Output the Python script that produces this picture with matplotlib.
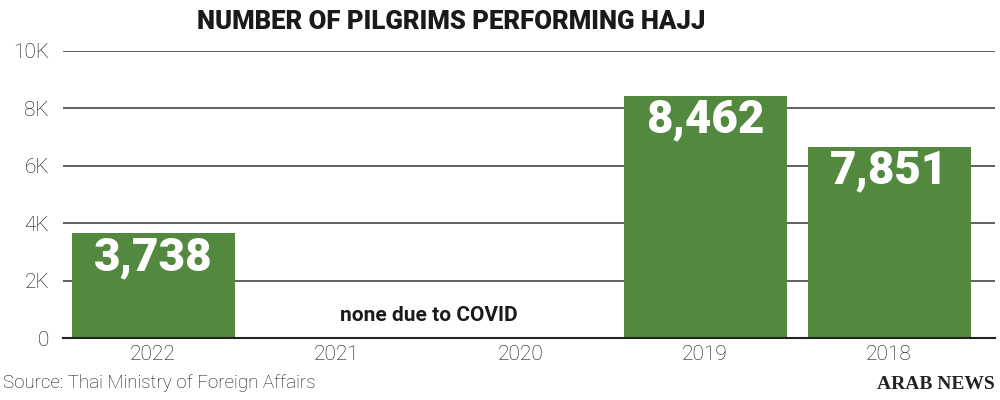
import matplotlib.pyplot as plt
from matplotlib.ticker import FuncFormatter

# Data
years = ["2022", "2021", "2020", "2019", "2018"]
bar_heights = [3650, 0, 0, 8440, 6670]
bar_labels = ["3,738", "", "", "8,462", "7,851"]
note_text = "none due to COVID"

green = "#52893f"

fig = plt.figure(figsize=(10, 4), dpi=100)
ax = fig.add_axes([0.063, 0.154, 0.932, 0.7185])

x = list(range(len(years)))
ax.bar(x, bar_heights, width=0.886, color=green, zorder=3)

# Big white value labels inside the bars
for xi, h, lab in zip(x, bar_heights, bar_labels):
    if lab:
        ax.annotate(lab, (xi, h), xytext=(0, -17), textcoords="offset points",
                    ha="center", va="center", color="white", fontsize=33,
                    fontweight="black", family="Roboto", zorder=4)

# Note for the empty COVID years
ax.text(1.5, 800, note_text, ha="center", va="center", fontsize=15,
        fontweight="bold", family="Roboto", color="#1a1a1a")

# Customizing axis
ax.set_xlim(-0.49, 4.576)
ax.set_ylim(0, 10000)
ax.set_yticks([0, 2000, 4000, 6000, 8000, 10000])
ax.yaxis.set_major_formatter(FuncFormatter(lambda v, p: "0" if v == 0 else "%dK" % (v / 1000)))
ax.set_xticks(x)
ax.set_xticklabels(years)
ax.tick_params(axis="both", length=0, labelsize=15, colors="#222222")
ax.tick_params(axis="y", pad=10)
ax.tick_params(axis="x", pad=5)
for lab in ax.get_xticklabels() + ax.get_yticklabels():
    lab.set_family("Roboto")
    lab.set_fontweight("light")
    lab.set_color("#111111")

ax.grid(axis="y", color="#444444", linewidth=1.2, zorder=0)
for side in ["top", "right", "left"]:
    ax.spines[side].set_visible(False)
ax.spines["bottom"].set_color("#222222")
ax.spines["bottom"].set_linewidth(1.5)
ax.spines["bottom"].set_zorder(5)

# Title, source and logo
fig.text(0.4515, 0.945, "NUMBER OF PILGRIMS PERFORMING HAJJ", ha="center", va="center",
         fontsize=18.5, fontweight="black", family="Roboto", color="#1a1a1a")
fig.text(0.003, 0.042, "Source: Thai Ministry of Foreign Affairs", ha="left", va="center",
         fontsize=13.5, fontweight="light", family="Roboto", color="#111111")
fig.text(0.995, 0.038, "ARAB NEWS", ha="right", va="center", fontsize=14,
         fontweight="bold", family="Liberation Serif", color="#222222")

plt.savefig("out.png")
plt.close()
